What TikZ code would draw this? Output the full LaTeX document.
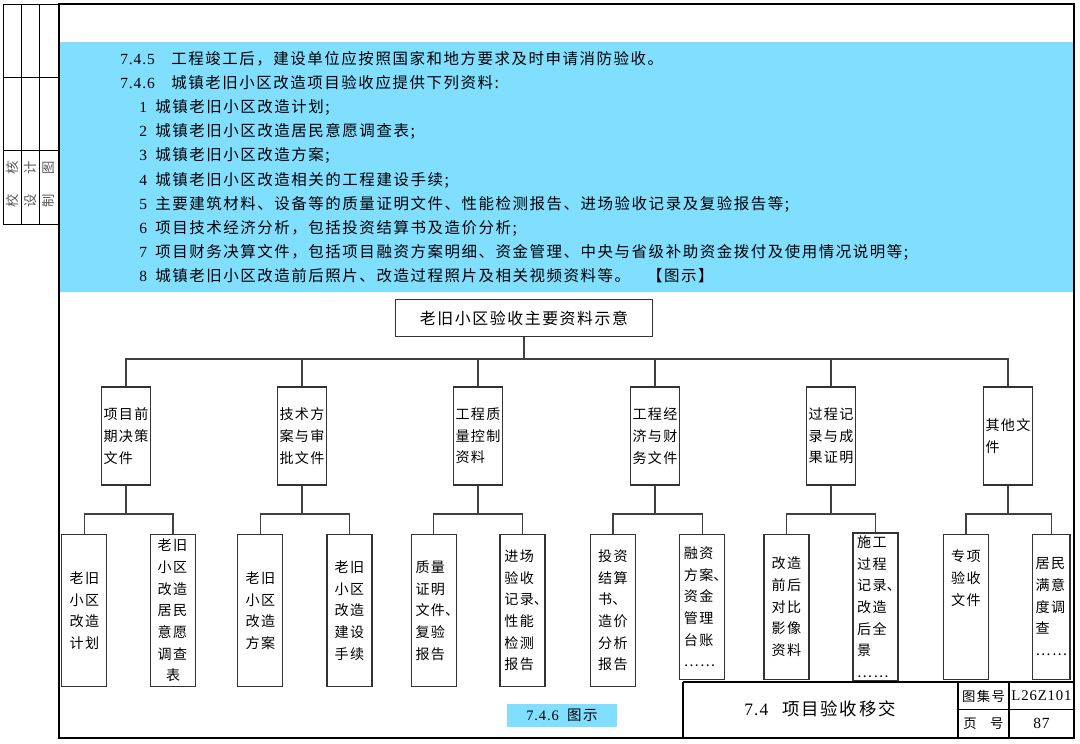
\documentclass[tikz,border=0pt]{standalone}
\usepackage{fontspec}
\setmainfont[LetterSpace=6]{Liberation Serif}
\newfontfamily\cjk[LetterSpace=10]{Noto Sans CJK SC}
\newcommand{\zh}[1]{{\cjk #1}}
\newcommand{\dun}{\makebox[0.5em][l]{、}}
\definecolor{bandblue}{RGB}{128,222,255}

\begin{document}
\begin{tikzpicture}[
  x=0.025cm,
  y=-0.025cm,
  para/.style={
    anchor=base west,
    inner sep=0pt,
    font=\fontsize{11pt}{13pt}\selectfont
  },
  rootbox/.style={
    draw=black!80,
    line width=0.9pt,
    minimum width=6.425cm,
    minimum height=0.925cm,
    inner sep=2pt,
    font=\cjk\fontsize{11.3pt}{13pt}\selectfont
  },
  branch/.style={
    draw=black!80,
    line width=0.9pt,
    minimum width=1.225cm,
    minimum height=2.45cm,
    align=left,
    inner xsep=0.5pt,
    inner ysep=2pt,
    font=\cjk\fontsize{10pt}{15.4pt}\selectfont
  },
  leaf/.style={
    draw=black!80,
    line width=0.9pt,
    minimum width=1.125cm,
    minimum height=3.81cm,
    align=left,
    inner xsep=0.5pt,
    inner ysep=2pt,
    font=\cjk\fontsize{10pt}{15.4pt}\selectfont
  },
  short/.style={minimum height=3.625cm},
  link/.style={draw=black!75, line width=0.9pt},
  sidechar/.style={
    rotate=90,
    inner sep=0pt,
    text=black!65,
    font=\cjk\fontsize{9.5pt}{11pt}\selectfont
  },
  cell/.style={inner sep=0pt}
]
\useasboundingbox (0,0) rectangle (1080,744);

% ------------------------------------------------
% Sheet: band, frame, side strip
% ------------------------------------------------
\fill[bandblue] (60,42) rectangle (1073,292);
\draw[line width=2.1pt] (59,4) rectangle (1074,738);

\draw[line width=0.7pt] (3,4) rectangle (59,224);
\draw[line width=0.7pt]
  (21,4) -- (21,224)
  (39,4) -- (39,224)
  (3,77) -- (59,77)
  (3,150) -- (59,150);

\node[sidechar] (check) at (12,184.5) {校\hspace{14pt}核};
\node[sidechar] (design) at (30,184.5) {设\hspace{14pt}计};
\node[sidechar] (drawn) at (48.5,184.5) {制\hspace{14pt}图};

% ------------------------------------------------
% Clauses 7.4.5 and 7.4.6
% ------------------------------------------------
\node[para] (s745) at (120,64)
{\makebox[36.3pt][l]{7.4.5}\zh{工程竣工后，建设单位应按照国家和地方要求及时申请消防验收。}};

\node[para] (s746) at (120,88.2)
{\makebox[36.3pt][l]{7.4.6}\zh{城镇老旧小区改造项目验收应提供下列资料:}};

\node[para] (i1) at (139,112.4)
{\makebox[11.4pt][l]{1}\zh{城镇老旧小区改造计划;}};

\node[para] (i2) at (139,136.6)
{\makebox[11.4pt][l]{2}\zh{城镇老旧小区改造居民意愿调查表;}};

\node[para] (i3) at (139,160.8)
{\makebox[11.4pt][l]{3}\zh{城镇老旧小区改造方案;}};

\node[para] (i4) at (139,185)
{\makebox[11.4pt][l]{4}\zh{城镇老旧小区改造相关的工程建设手续;}};

\node[para] (i5) at (139,209.2)
{\makebox[11.4pt][l]{5}\zh{主要建筑材料、设备等的质量证明文件、性能检测报告、进场验收记录及复验报告等;}};

\node[para] (i6) at (139,233.4)
{\makebox[11.4pt][l]{6}\zh{项目技术经济分析，包括投资结算书及造价分析;}};

\node[para] (i7) at (139,257.6)
{\makebox[11.4pt][l]{7}\zh{项目财务决算文件，包括项目融资方案明细、资金管理、中央与省级补助资金拨付及使用情况说明等;}};

\node[para] (i8) at (139,281.8)
{\makebox[11.4pt][l]{8}\zh{城镇老旧小区改造前后照片、改造过程照片及相关视频资料等。\hspace{12pt}【图示】}};

% ------------------------------------------------
% Tree of acceptance documents
% ------------------------------------------------
\node[rootbox] (root) at (524,318) {老旧小区验收主要资料示意};

\node[branch] (b1) at (126,436) {项目前\\期决策\\文件};
\node[branch] (b2) at (302,436) {技术方\\案与审\\批文件};
\node[branch] (b3) at (478,436) {工程质\\量控制\\资料};
\node[branch] (b4) at (655,436) {工程经\\济与财\\务文件};
\node[branch] (b5) at (831,436) {过程记\\录与成\\果证明};
\node[branch] (b6) at (1008,436) {其他文\\件};

\node[leaf] (c1a) at (84.3,610.5) {老旧\\小区\\改造\\计划};
\node[leaf] (c1b) at (173.1,610.5)
{老旧\\小区\\改造\\居民\\意愿\\调查\\\makebox[2.2em]{表}};
\node[leaf] (c2a) at (260.3,610.5) {老旧\\小区\\改造\\方案};
\node[leaf] (c2b) at (349.4,610.5) {老旧\\小区\\改造\\建设\\手续};
\node[leaf] (c3a) at (433.8,610.5) {质量\\证明\\文件\dun\\复验\\报告};
\node[leaf] (c3b) at (522.6,610.5) {进场\\验收\\记录\dun\\性能\\检测\\报告};
\node[leaf] (c4a) at (613,610.5) {投资\\结算\\书\dun\\造价\\分析\\报告};
\node[leaf,short] (c4b) at (702.2,606.8) {融资\\方案\dun\\资金\\管理\\台账\\……};
\node[leaf,short] (c5a) at (786.5,606.8) {改造\\前后\\对比\\影像\\资料};
\node[leaf,short] (c5b) at (875.5,606.8) {施工\\过程\\记录\dun\\改造\\后全\\景\\……};
\node[leaf,short] (c6a) at (966,606.8) {专项\\验收\\文件\\[26pt]\mbox{}};
\node[leaf,short,minimum width=0.93cm] (c6b) at (1051.3,606.8) {居民\\满意\\度调\\查\\……};

% Root down to the common bus.
\coordinate (hub) at (524,359);
\draw[link] (root.south) -- (hub);
\draw[link] (b1.north) |- (hub) -| (b6.north);
\draw[link] (b2.north) -- (b2.north |- hub);
\draw[link] (b3.north) -- (b3.north |- hub);
\draw[link] (b4.north) -- (b4.north |- hub);
\draw[link] (b5.north) -- (b5.north |- hub);

% Each group splits into two documents.
\coordinate (j1) at (126,514);
\coordinate (j2) at (302,514);
\coordinate (j3) at (478,514);
\coordinate (j4) at (655,514);
\coordinate (j5) at (831,514);
\coordinate (j6) at (1008,514);

\draw[link] (b1.south) -- (j1);
\draw[link] (c1a.north) |- (j1) -| (c1b.north);
\draw[link] (b2.south) -- (j2);
\draw[link] (c2a.north) |- (j2) -| (c2b.north);
\draw[link] (b3.south) -- (j3);
\draw[link] (c3a.north) |- (j3) -| (c3b.north);
\draw[link] (b4.south) -- (j4);
\draw[link] (c4a.north) |- (j4) -| (c4b.north);
\draw[link] (b5.south) -- (j5);
\draw[link] (c5a.north) |- (j5) -| (c5b.north);
\draw[link] (b6.south) -- (j6);
\draw[link] (c6a.north) |- (j6) -| (c6b.north);

\node[fill=bandblue, minimum width=2.75cm, minimum height=0.575cm, inner sep=0pt,
  font=\fontsize{10.3pt}{12pt}\selectfont] (figlabel) at (562,715.5)
{7.4.6\hspace{6pt}\zh{图示}};

% ------------------------------------------------
% Title block
% ------------------------------------------------
\draw[line width=1pt]
  (683,682) -- (1074,682)
  (683,682) -- (683,738)
  (958,682) -- (958,738)
  (1009,682) -- (1009,738)
  (958,709.5) -- (1074,709.5);

\node[cell, font=\fontsize{12.4pt}{14pt}\selectfont] (title) at (820,709)
{7.4\hspace{10pt}\zh{项目验收移交}};
\node[cell, font=\cjk\fontsize{9.5pt}{11pt}\selectfont] (atlas) at (983.5,696) {图集号};
\node[cell, font=\fontsize{10.5pt}{12pt}\selectfont] (atlasno) at (1041.5,696) {L26Z101};
\node[cell, font=\cjk\fontsize{9.5pt}{11pt}\selectfont] (page) at (983.5,723.5) {页\hspace{9.5pt}号};
\node[cell, font=\fontsize{11pt}{12pt}\selectfont] (pageno) at (1041.5,723.5) {87};

\end{tikzpicture}
\end{document}
